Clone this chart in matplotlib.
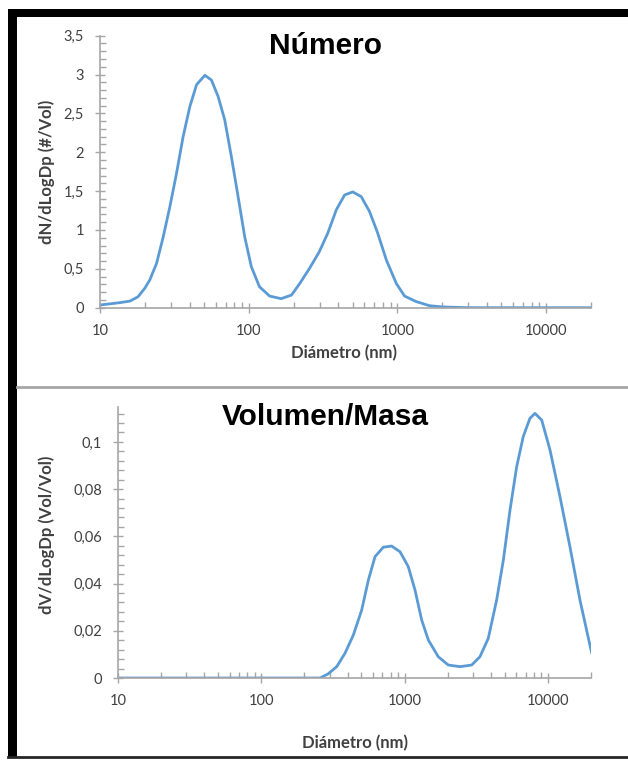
import numpy as np
import matplotlib
matplotlib.use('Agg')
import matplotlib.pyplot as plt
from matplotlib.ticker import FixedLocator, FixedFormatter, LogLocator, NullFormatter
from matplotlib.patches import Rectangle
from matplotlib.lines import Line2D

W, H = 628, 760

# Numero distribution (diameter nm, dN/dLogDp)
num_d = [10, 11.7, 13.6, 15.9, 18, 20, 21.6, 24.0, 26.6, 29.5, 32.7, 36.2, 40.2, 44.6,
         50.7, 56.1, 62.2, 68.9, 76.5, 84.8, 94, 104, 118, 138, 165, 194, 220, 257,
         298, 340, 388, 441, 500, 570, 648, 736, 843, 983, 1116, 1330, 1640, 2000,
         3000, 5000, 10000, 20000]
num_v = [0.035, 0.05, 0.065, 0.085, 0.14, 0.25, 0.356, 0.57, 0.91, 1.30, 1.73, 2.20,
         2.59, 2.87, 2.99, 2.93, 2.72, 2.42, 1.94, 1.43, 0.91, 0.53, 0.27, 0.15, 0.116,
         0.163, 0.31, 0.51, 0.72, 0.96, 1.26, 1.45, 1.49, 1.43, 1.24, 0.96, 0.61, 0.31,
         0.15, 0.08, 0.026, 0.01, 0.0, 0.0, 0.0, 0.0]

# Volumen/Masa distribution (diameter nm, dV/dLogDp)
vol_d = [10, 100, 257, 292, 336, 384, 439, 502, 559, 622, 710, 812, 929, 1061, 1182,
         1316, 1465, 1719, 2018, 2438, 2940, 3357, 3838, 4393, 4891, 5445, 6058, 6735,
         7497, 8126, 9054, 10350, 12150, 14260, 16740, 20230]
vol_v = [0.0, 0.0, 0.0, 0.0017, 0.0048, 0.0105, 0.0182, 0.0288, 0.0415, 0.0514, 0.0554,
         0.0559, 0.0535, 0.0472, 0.0373, 0.0246, 0.0161, 0.0090, 0.0055, 0.0048, 0.0055,
         0.0090, 0.0168, 0.0331, 0.0500, 0.0712, 0.0895, 0.1023, 0.110, 0.1121, 0.1093,
         0.0966, 0.0768, 0.0556, 0.0331, 0.0105]

x_ticks = [10, 100, 1000, 10000]
x_labels = ['10', '100', '1000', '10000']
num_yticks = [0, 0.5, 1, 1.5, 2, 2.5, 3, 3.5]
num_ylabels = ['0', '0,5', '1', '1,5', '2', '2,5', '3', '3,5']
vol_yticks = [0, 0.02, 0.04, 0.06, 0.08, 0.1]
vol_ylabels = ['0', '0,02', '0,04', '0,06', '0,08', '0,1']

LINE = '#5b9bd5'
AXC = '#a6a6a6'
TXT = '#404040'
FONT = ['Lato', 'DejaVu Sans']
TFONT = ['Liberation Sans', 'DejaVu Sans']


def px_rect(x0, y0, x1, y1):
    # pixel box (top-left origin) -> figure fraction rect
    return [x0 / W, 1 - y1 / H, (x1 - x0) / W, (y1 - y0) / H]


def style_axes(ax, yticks, ylabels, ymax, minor_step):
    ax.set_xscale('log')
    ax.set_xlim(10, 20000)
    ax.set_ylim(0, ymax)
    for s in ['top', 'right']:
        ax.spines[s].set_visible(False)
    for s in ['left', 'bottom']:
        ax.spines[s].set_color(AXC)
        ax.spines[s].set_linewidth(1.2)
    ax.xaxis.set_major_locator(FixedLocator(x_ticks))
    ax.xaxis.set_major_formatter(FixedFormatter(x_labels))
    ax.xaxis.set_minor_locator(LogLocator(base=10, subs=np.arange(2, 10), numticks=20))
    ax.xaxis.set_minor_formatter(NullFormatter())
    ax.yaxis.set_major_locator(FixedLocator(yticks))
    ax.yaxis.set_major_formatter(FixedFormatter(ylabels))
    ax.yaxis.set_minor_locator(FixedLocator(np.arange(0, ymax + 1e-9, minor_step)))
    ax.tick_params(which='major', direction='inout', length=7, width=1, color=AXC,
                   labelsize=10.5, labelcolor=TXT)
    ax.tick_params(which='minor', direction='in', length=4, width=1, color=AXC)
    ax.tick_params(axis='x', which='major', pad=8)
    ax.tick_params(axis='y', which='major', pad=8)
    for lab in ax.get_xticklabels() + ax.get_yticklabels():
        lab.set_family(FONT)


fig = plt.figure(figsize=(W / 100, H / 100), dpi=100)
fig.patch.set_facecolor('white')

# top panel
ax1 = fig.add_axes(px_rect(100, 35.7, 591, 307.7))
ax1.plot(num_d, num_v, color=LINE, lw=2.0, solid_joinstyle='round', solid_capstyle='round')
style_axes(ax1, num_yticks, num_ylabels, 3.5, 0.1)
ax1.set_xlabel('Diámetro (nm)', fontsize=12, fontweight='bold', color=TXT, family=FONT)
ax1.xaxis.set_label_coords(0.497, -0.168)
ax1.xaxis.label.set_verticalalignment('center')
ax1.set_ylabel('dN/dLogDp (#/Vol)', fontsize=12, fontweight='bold', color=TXT, family=FONT)
ax1.yaxis.set_label_coords(-0.108, 0.5)
ax1.yaxis.label.set_verticalalignment('center')

# bottom panel
ax2 = fig.add_axes(px_rect(118, 407, 591, 678))
ax2.plot(vol_d, vol_v, color=LINE, lw=2.0, solid_joinstyle='round', solid_capstyle='round')
style_axes(ax2, vol_yticks, vol_ylabels, 0.1148, 0.004)
ax2.set_xlabel('Diámetro (nm)', fontsize=12, fontweight='bold', color=TXT, family=FONT)
ax2.xaxis.set_label_coords(0.5, -0.24)
ax2.xaxis.label.set_verticalalignment('center')
ax2.set_ylabel('dV/dLogDp (Vol/Vol)', fontsize=12, fontweight='bold', color=TXT, family=FONT)
ax2.yaxis.set_label_coords(-0.150, 0.53)
ax2.yaxis.label.set_verticalalignment('center')

# titles
fig.text(325 / W, 1 - 46 / H, 'Número', ha='center', va='center', fontsize=21.5,
         fontweight='bold', family=TFONT, color='black')
fig.text(325 / W, 1 - 417 / H, 'Volumen/Masa', ha='center', va='center', fontsize=21.5,
         fontweight='bold', family=TFONT, color='black')

# frame: black top and left bars, gray separator, dark bottom line
fig.add_artist(Rectangle((8 / W, 1 - 17 / H), (W - 8) / W, 8 / H, transform=fig.transFigure,
                         facecolor='black', edgecolor='none'))
fig.add_artist(Rectangle((8 / W, 1 - 758 / H), 9 / W, (758 - 9) / H, transform=fig.transFigure,
                         facecolor='black', edgecolor='none'))
fig.add_artist(Line2D([17 / W, 1], [1 - 387 / H, 1 - 387 / H], transform=fig.transFigure,
                      color=AXC, lw=2))
fig.add_artist(Line2D([8 / W, 1], [1 - 757 / H, 1 - 757 / H], transform=fig.transFigure,
                      color='#262626', lw=2))

fig.savefig('out.png', dpi=100)
